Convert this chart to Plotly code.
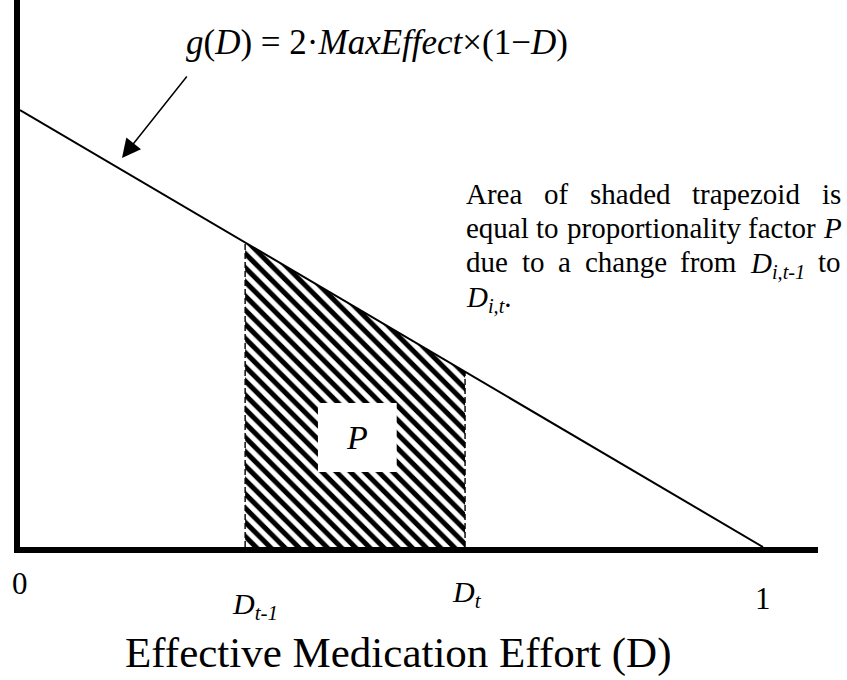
import plotly.graph_objects as go

W, H = 847, 680

# ---------------- data ----------------
line_D = [0.0, 1.0]          # g(D) line endpoints
line_g = [2.0, 0.0]
trap_D = [0.303, 0.303, 0.599, 0.599]   # shaded trapezoid
trap_g = [0.0, 1.394, 0.802, 0.0]
dash_D = [0.303, 0.599]
dash_g = [1.394, 0.802]
tick_vals = [0.0, 0.303, 0.599, 1.0]
tick_text = ["0", "<i>D</i><sub><i>t-1</i></sub>", "<i>D</i><sub><i>t</i></sub>", "1"]
p_box_D = [0.401, 0.507]
p_box_g = [0.343, 0.659]

FONT = "Liberation Serif, Times New Roman, serif"

# plot area geometry
ML, MR, MT, MB = 20, 29, 0, 133
PW, PH = W - ML - MR, H - MT - MB


def PX(px):
    return (px - ML) / PW


def PY(py):
    return (MT + PH - py) / PH


fig = go.Figure()

# hatched trapezoid
fig.add_trace(go.Scatter(
    x=trap_D, y=trap_g, mode="lines", fill="toself",
    line=dict(width=0, color="rgba(0,0,0,0)"),
    fillcolor="white",
    fillpattern=dict(shape="\\", fgcolor="black", bgcolor="white",
                     fgopacity=1, size=10, solidity=0.5),
    hoverinfo="skip", showlegend=False))

# dashed verticals
for d, g in zip(dash_D, dash_g):
    fig.add_trace(go.Scatter(
        x=[d, d], y=[0, g], mode="lines",
        line=dict(color="black", width=1.4, dash="6px,3px"),
        hoverinfo="skip", showlegend=False))

# g(D) line
fig.add_trace(go.Scatter(
    x=line_D, y=line_g, mode="lines",
    line=dict(color="black", width=2),
    hoverinfo="skip", showlegend=False))

annotations = []

# tick labels
tick_xshift = [0, 10, 2, 0]
tick_ypx = [583, 606, 594, 598]
tick_size = [31, 30, 30, 31]
for v, t, xs, yp, fs in zip(tick_vals, tick_text, tick_xshift, tick_ypx, tick_size):
    annotations.append(dict(
        x=v, xref="x", y=PY(yp), yref="paper", text=t, showarrow=False,
        xanchor="center", yanchor="middle", xshift=xs,
        font=dict(family=FONT, size=fs, color="black")))

# axis title
annotations.append(dict(
    x=PX(398), y=PY(653), xref="paper", yref="paper",
    text="Effective Medication Effort (D)", showarrow=False,
    xanchor="center", yanchor="middle",
    font=dict(family=FONT, size=43, color="black")))

# formula
annotations.append(dict(
    x=PX(377), y=PY(43), xref="paper", yref="paper",
    text="<i>g</i>(<i>D</i>)\u00a0=\u00a02·<i>MaxEffect</i>×(1−<i>D</i>)",
    showarrow=False, xanchor="center", yanchor="middle",
    font=dict(family=FONT, size=35, color="black")))

# arrow
annotations.append(dict(
    x=PX(122), y=PY(158), xref="paper", yref="paper", text="",
    showarrow=True, arrowhead=2, arrowsize=2.5, arrowwidth=1.5,
    arrowcolor="black", ax=188 - 122, ay=75 - 158))

# P label
annotations.append(dict(
    x=sum(p_box_D) / 2, y=sum(p_box_g) / 2, xref="x", yref="y",
    text="<i>P</i>", showarrow=False, xanchor="center", yanchor="middle",
    font=dict(family=FONT, size=34, color="black")))

# ---------- justified paragraph ----------
REG = {' ': 250, 'A': 722, 'D': 722, 'P': 556, 'a': 444, 'c': 444, 'd': 500,
       'e': 444, 'f': 333, 'g': 500, 'h': 500, 'i': 278, 'l': 278, 'm': 778,
       'n': 500, 'o': 500, 'p': 500, 'q': 500, 'r': 333, 's': 389, 't': 278,
       'u': 500, 'y': 500, 'z': 444, '.': 250, ',': 250, '-': 333, '1': 500}
ITA = {'D': 722, 'P': 611, 'i': 278, 't': 278, ',': 250, '-': 333, '1': 500}


def seg_width(segs, fs):
    w = 0.0
    for txt, kind in segs:
        if kind == "r":
            w += sum(REG[c] for c in txt) * fs / 1000
        elif kind == "i":
            w += sum(ITA[c] for c in txt) * fs / 1000
        else:  # italic subscript
            w += sum(ITA[c] for c in txt) * fs * 0.7 / 1000
    return w


def seg_html(segs):
    out = ""
    for txt, kind in segs:
        if kind == "r":
            out += txt
        elif kind == "i":
            out += "<i>" + txt + "</i>"
        else:
            out += "<sub><i>" + txt + "</i></sub>"
    return out


def W_(s):
    return [(s, "r")]


para_lines = [
    [W_("Area"), W_("of"), W_("shaded"), W_("trapezoid"), W_("is")],
    [W_("equal"), W_("to"), W_("proportionality"), W_("factor"), [("P", "i")]],
    [W_("due"), W_("to"), W_("a"), W_("change"), W_("from"),
     [("D", "i"), ("i,t-1", "s")], W_("to")],
    [[("D", "i"), ("i,t", "s"), (".", "r")]],
]
para_justify = [True, True, True, False]
para_ypx = [194, 228, 262, 296]
PFS = 29
PX0, PX1 = 465, 840

for words, just, yp in zip(para_lines, para_justify, para_ypx):
    widths = [seg_width(w, PFS) for w in words]
    if just and len(words) > 1:
        gap = (PX1 - PX0 - sum(widths)) / (len(words) - 1)
    else:
        gap = 0.25 * PFS
    xcur = PX0
    for w, wd in zip(words, widths):
        has_sub = any(k == "s" for _, k in w)
        annotations.append(dict(
            x=PX(xcur), y=PY(yp), xref="paper", yref="paper",
            text=seg_html(w), showarrow=False, xanchor="left",
            yanchor="middle", borderpad=0, yshift=-3 if has_sub else 0,
            font=dict(family=FONT, size=PFS, color="black")))
        xcur += wd + gap

shapes = [dict(type="rect", xref="x", yref="y",
               x0=p_box_D[0], x1=p_box_D[1], y0=p_box_g[0], y1=p_box_g[1],
               fillcolor="white", line=dict(width=0), layer="above")]

fig.update_layout(
    width=W, height=H, autosize=False,
    margin=dict(l=ML, r=MR, t=MT, b=MB, pad=0),
    paper_bgcolor="white", plot_bgcolor="white",
    showlegend=False,
    annotations=annotations, shapes=shapes,
    xaxis=dict(range=[0, PW / 743], showgrid=False, zeroline=False,
               showticklabels=False, ticks="", showline=True,
               linecolor="black", linewidth=6, fixedrange=True),
    yaxis=dict(range=[0, PH / 218.5], showgrid=False, zeroline=False,
               showticklabels=False, ticks="", showline=True,
               linecolor="black", linewidth=6, fixedrange=True),
)

fig.write_html("out.html", config={"displayModeBar": False},
               post_script="document.body.style.margin='0';")
